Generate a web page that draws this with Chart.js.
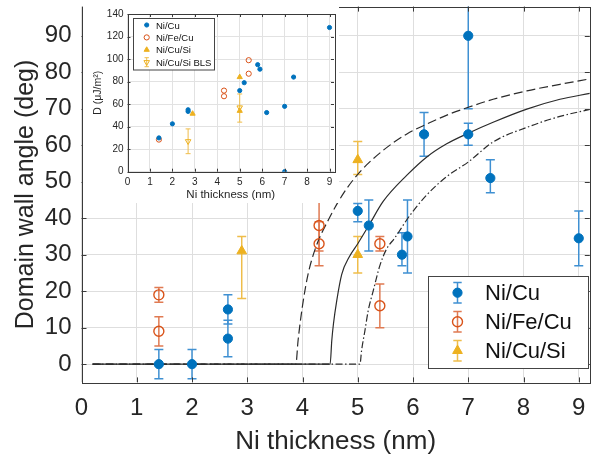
<!DOCTYPE html>
<html>
<head>
<meta charset="utf-8">
<script src="https://cdn.jsdelivr.net/npm/chart.js@4"></script>
<style>
  html, body { margin: 0; padding: 0; background: #fff; }
  #wrap { position: relative; width: 601px; height: 462px; }
  #main { position: absolute; left: 0; top: 0; }
  #insetBox { position: absolute; left: 83px; top: 6px; width: 256px; height: 197px; background: #fff; }
</style>
</head>
<body>
<div id="wrap">
  <canvas id="main" width="601" height="462"></canvas>
  <div id="insetBox"><canvas id="inset" width="256" height="197"></canvas></div>
</div>
<script>
// ---- main plot: domain wall angle vs Ni thickness ----
const xTicks = [0, 1, 2, 3, 4, 5, 6, 7, 8, 9];
const yTicks = [0, 10, 20, 30, 40, 50, 60, 70, 80, 90];

const niCuX = [1.4, 2, 2.65, 2.65, 5, 5.2, 5.8, 5.9, 6.2, 7, 7, 7.4, 9];
const niCuY = [0, 0, 15, 7, 42, 38, 30, 35, 63, 90, 63, 51, 34.5];
const niCuUp = [4, 4, 4, 5, 2, 7, 6, 10, 6, 20, 3, 5, 7.5];
const niCuDown = [4, 4, 4, 5, 3, 7, 3, 10, 6, 20, 3, 4, 7.5];

const niFeCuX = [1.4, 1.4, 4.3, 4.3, 5.4, 5.4];
const niFeCuY = [19, 9, 38, 33, 33, 16];
const niFeCuUp = [2, 4, 7, 6, 2, 6];
const niFeCuDown = [2, 4, 7, 6, 2, 6];

const niCuSiX = [2.9, 5, 5];
const niCuSiY = [31, 56, 30];
const niCuSiUp = [4, 5, 5];
const niCuSiDown = [13, 4, 5];

// model curves
const solidX = [0.2, 4.5, 4.53, 4.56, 4.62, 4.71, 4.85, 5.0, 5.2, 5.46, 5.89, 6.25, 6.61, 7.0, 7.45, 8.06, 8.66, 9.2];
const solidY = [0, 0, 6.5, 11, 17.4, 24.6, 29.5, 33, 38, 44.6, 51.8, 56.8, 60.4, 63.3, 66.3, 69.9, 72.6, 74.2];
const dashX = [0.2, 3.88, 3.92, 4.0, 4.1, 4.24, 4.47, 4.75, 5.04, 5.46, 5.89, 6.25, 6.67, 7.0, 7.45, 8.06, 8.66, 9.2];
const dashY = [0, 0, 6.5, 16, 24.6, 32, 39.6, 47, 52.7, 58.6, 63.1, 65.8, 68.6, 70.4, 72.6, 74.9, 76.7, 78.2];
const dashDotX = [0.2, 5.04, 5.07, 5.13, 5.19, 5.28, 5.4, 5.52, 5.67, 5.95, 6.25, 6.61, 7.0, 7.45, 8.06, 8.66, 9.2];
const dashDotY = [0, 0, 3.8, 9.2, 14.7, 20.1, 27, 31.5, 34.6, 40.9, 46.4, 51.4, 55.4, 60.9, 64.9, 67.9, 69.8];

// ---- inset: D vs Ni thickness ----
const insetXTicks = [0, 1, 2, 3, 4, 5, 6, 7, 8, 9];
const insetYTicks = [0, 20, 40, 60, 80, 100, 120, 140];

const dNiCuX = [1.4, 2, 2.7, 2.7, 5, 5.2, 5.8, 5.9, 6.2, 7, 7, 7.4, 9];
const dNiCuY = [30, 42.5, 55, 53.5, 72, 79, 95, 91, 52.5, 58, 0, 84, 128];
const dNiFeCuX = [1.4, 4.3, 4.3, 5.4, 5.4];
const dNiFeCuY = [28.5, 72, 67, 99, 87];
const dNiCuSiX = [2.9, 5, 5];
const dNiCuSiY = [51.5, 84, 54];
const dBlsX = [2.7, 5];
const dBlsY = [27, 57];
const dBlsUp = [11, 12];
const dBlsDown = [11, 13];

const FONT = "'Liberation Sans', Arial, sans-serif";
const BLUE = '#0072BD', ORANGE = '#D95319', YELLOW = '#EDB120';
const INK = '#262626';

const pts = (xs, ys) => xs.map((x, i) => ({x: x, y: ys[i]}));

// vertical error bars with caps, drawn under the markers
const errorBars = {
  id: 'errorBars',
  beforeDatasetsDraw(chart) {
    const {ctx, chartArea: a, scales: {x, y}} = chart;
    ctx.save();
    ctx.beginPath();
    ctx.rect(a.left, a.top, a.right - a.left, a.bottom - a.top);
    ctx.clip();
    chart.data.datasets.forEach(ds => {
      if (!ds.errUp) return;
      ctx.strokeStyle = ds.barColor;
      ctx.lineWidth = ds.barWidth;
      ds.data.forEach((p, i) => {
        const px = x.getPixelForValue(p.x);
        const top = y.getPixelForValue(p.y + ds.errUp[i]);
        const bot = y.getPixelForValue(p.y - ds.errDown[i]);
        const c = ds.capHalf;
        ctx.beginPath();
        ctx.moveTo(px, top); ctx.lineTo(px, bot);
        ctx.moveTo(px - c, top); ctx.lineTo(px + c, top);
        ctx.moveTo(px - c, bot); ctx.lineTo(px + c, bot);
        ctx.stroke();
      });
    });
    ctx.restore();
  }
};

// box around the axes with inward ticks on every side
const frame = {
  id: 'frame',
  afterDraw(chart, args, opts) {
    const {ctx, chartArea: a, scales: {x, y}} = chart;
    const t = opts.tick;
    ctx.save();
    ctx.strokeStyle = opts.color;
    ctx.lineWidth = 1;
    ctx.beginPath();
    x.ticks.forEach(tk => {
      const px = Math.round(x.getPixelForValue(tk.value)) + 0.5;
      ctx.moveTo(px, a.bottom); ctx.lineTo(px, a.bottom - t);
      ctx.moveTo(px, a.top); ctx.lineTo(px, a.top + t);
    });
    y.ticks.forEach(tk => {
      const py = Math.round(y.getPixelForValue(tk.value)) + 0.5;
      ctx.moveTo(a.left, py); ctx.lineTo(a.left + t, py);
      ctx.moveTo(a.right, py); ctx.lineTo(a.right - t, py);
    });
    ctx.stroke();
    ctx.strokeRect(Math.round(a.left) + 0.5, Math.round(a.top) + 0.5,
      Math.round(a.right - a.left), Math.round(a.bottom - a.top));
    ctx.restore();
  }
};

function marker(ctx, ds, cx, cy, scale) {
  ctx.fillStyle = ds.backgroundColor;
  ctx.strokeStyle = ds.borderColor;
  ctx.lineWidth = ds.borderWidth;
  Chart.helpers.drawPoint(ctx, {
    pointStyle: ds.pointStyle,
    radius: ds.pointRadius * (scale || 1),
    borderWidth: ds.borderWidth,
    rotation: ds.pointRotation || 0
  }, cx, cy);
}

// legend: box, error-bar glyph, marker, label
const boxLegend = {
  id: 'boxLegend',
  afterDraw(chart, args, o) {
    const ctx = chart.ctx;
    ctx.save();
    ctx.fillStyle = '#fff';
    ctx.fillRect(o.left, o.top, o.width, o.height);
    ctx.strokeStyle = '#444';
    ctx.lineWidth = 1;
    ctx.strokeRect(o.left, o.top, o.width, o.height);
    const list = chart.data.datasets.filter(d => d.legend);
    list.forEach((ds, i) => {
      const cy = o.firstY + i * o.step;
      const cx = o.markX;
      if (ds.errUp && o.bar) {
        ctx.strokeStyle = ds.barColor;
        ctx.lineWidth = ds.barWidth;
        ctx.beginPath();
        ctx.moveTo(cx, cy - o.bar); ctx.lineTo(cx, cy + o.bar);
        ctx.moveTo(cx - o.cap, cy - o.bar); ctx.lineTo(cx + o.cap, cy - o.bar);
        ctx.moveTo(cx - o.cap, cy + o.bar); ctx.lineTo(cx + o.cap, cy + o.bar);
        ctx.stroke();
      }
      marker(ctx, ds, cx, cy, o.markScale);
      ctx.fillStyle = '#111';
      ctx.font = o.font;
      ctx.textAlign = 'left';
      ctx.textBaseline = 'middle';
      ctx.fillText(ds.label, o.textX, cy + 1);
    });
    ctx.restore();
  }
};

function curve(label, xs, ys, dash) {
  return {
    label: label, data: pts(xs, ys), showLine: true, pointRadius: 0,
    borderColor: '#2b2b2b', borderWidth: 1.2, borderDash: dash,
    cubicInterpolationMode: 'monotone', fill: false, order: 2
  };
}

new Chart(document.getElementById('main'), {
  type: 'scatter',
  data: {
    datasets: [
      {
        label: 'Ni/Cu', legend: true, data: pts(niCuX, niCuY),
        errUp: niCuUp, errDown: niCuDown, barColor: '#3f90d2', barWidth: 1.5, capHalf: 4.5,
        pointStyle: 'circle', pointRadius: 4.6, backgroundColor: BLUE, borderColor: BLUE, borderWidth: 1, order: 1
      },
      {
        label: 'Ni/Fe/Cu', legend: true, data: pts(niFeCuX, niFeCuY),
        errUp: niFeCuUp, errDown: niFeCuDown, barColor: '#e07a52', barWidth: 1.5, capHalf: 4.5,
        pointStyle: 'circle', pointRadius: 5, backgroundColor: 'rgba(255,255,255,0)', borderColor: ORANGE, borderWidth: 1.4, order: 1
      },
      {
        label: 'Ni/Cu/Si', legend: true, data: pts(niCuSiX, niCuSiY),
        errUp: niCuSiUp, errDown: niCuSiDown, barColor: '#efbd4a', barWidth: 1.5, capHalf: 4.5,
        pointStyle: 'triangle', pointRadius: 5.6, backgroundColor: YELLOW, borderColor: YELLOW, borderWidth: 1, order: 1
      },
      curve('fit', solidX, solidY, []),
      curve('fit upper', dashX, dashY, [9, 4]),
      curve('fit lower', dashDotX, dashDotY, [7, 2.5, 1.5, 2.5])
    ]
  },
  options: {
    responsive: false,
    animation: false,
    layout: { padding: { left: 0, top: 3.4, right: 11.2, bottom: 0 } },
    scales: {
      x: {
        type: 'linear', min: 0, max: 9.2,
        afterBuildTicks: s => { s.ticks = xTicks.map(v => ({value: v})); },
        afterFit: s => { s.height = 79.6; s.paddingLeft = 0; s.paddingRight = 0; },
        grid: { color: '#dedede', drawTicks: false },
        border: { display: false },
        ticks: { padding: 12, color: INK, font: { family: FONT, size: 24 } },
        title: {
          display: true, text: 'Ni thickness (nm)', color: INK,
          font: { family: FONT, size: 26, lineHeight: 1 }, padding: { top: 0, bottom: 7 }
        }
      },
      y: {
        type: 'linear', min: -5, max: 98,
        afterBuildTicks: s => { s.ticks = yTicks.map(v => ({value: v})); },
        afterFit: s => { s.width = 81.5; s.paddingTop = 0; s.paddingBottom = 0; },
        grid: { color: '#dedede', drawTicks: false },
        border: { display: false },
        ticks: { padding: 10, color: INK, font: { family: FONT, size: 24 } },
        title: {
          display: true, text: 'Domain wall angle (deg)', color: INK,
          font: { family: FONT, size: 25, lineHeight: 1 }, padding: { top: 14, bottom: 0 }
        }
      }
    },
    plugins: {
      legend: { display: false },
      tooltip: { enabled: false },
      frame: { tick: 5, color: '#3a3a3a' },
      boxLegend: {
        left: 428.5, top: 276.5, width: 160, height: 92,
        firstY: 292.7, step: 29, markX: 457.5, textX: 485,
        bar: 10.3, cap: 4.2, font: '22px ' + FONT
      }
    }
  },
  plugins: [errorBars, frame, boxLegend]
});

new Chart(document.getElementById('inset'), {
  type: 'scatter',
  data: {
    datasets: [
      {
        label: 'Ni/Cu', legend: true, data: pts(dNiCuX, dNiCuY),
        pointStyle: 'circle', pointRadius: 2.1, backgroundColor: BLUE, borderColor: BLUE, borderWidth: 1
      },
      {
        label: 'Ni/Fe/Cu', legend: true, data: pts(dNiFeCuX, dNiFeCuY),
        pointStyle: 'circle', pointRadius: 2.6, backgroundColor: 'rgba(255,255,255,0)', borderColor: ORANGE, borderWidth: 1
      },
      {
        label: 'Ni/Cu/Si', legend: true, data: pts(dNiCuSiX, dNiCuSiY),
        pointStyle: 'triangle', pointRadius: 3, backgroundColor: YELLOW, borderColor: YELLOW, borderWidth: 1
      },
      {
        label: 'Ni/Cu/Si BLS', legend: true, data: pts(dBlsX, dBlsY),
        errUp: dBlsUp, errDown: dBlsDown, barColor: '#efbd4a', barWidth: 1, capHalf: 2.5,
        pointStyle: 'triangle', pointRotation: 180, pointRadius: 3.2,
        backgroundColor: 'rgba(255,255,255,0)', borderColor: YELLOW, borderWidth: 1
      }
    ]
  },
  options: {
    responsive: false,
    animation: false,
    layout: { padding: { left: 0, top: 8, right: 2.8, bottom: 0 } },
    scales: {
      x: {
        type: 'linear', min: 0, max: 9.2,
        afterBuildTicks: s => { s.ticks = insetXTicks.map(v => ({value: v})); },
        afterFit: s => { s.height = 31.3; s.paddingLeft = 0; s.paddingRight = 0; },
        grid: { color: '#e2e2e2', drawTicks: false },
        border: { display: false },
        ticks: { padding: 5, color: INK, font: { family: FONT, size: 10 } },
        title: {
          display: true, text: 'Ni thickness (nm)', color: INK,
          font: { family: FONT, size: 11.5, lineHeight: 1 }, padding: { top: 0, bottom: 2 }
        }
      },
      y: {
        type: 'linear', min: 0, max: 140,
        afterBuildTicks: s => { s.ticks = insetYTicks.map(v => ({value: v})); },
        afterFit: s => { s.width = 44.5; s.paddingTop = 0; s.paddingBottom = 0; },
        grid: { color: '#e2e2e2', drawTicks: false },
        border: { display: false },
        ticks: { padding: 4, color: INK, font: { family: FONT, size: 10 } },
        title: {
          display: true, text: 'D (\u03bcJ/m\u00b2)', color: INK,
          font: { family: FONT, size: 10.5, lineHeight: 1 }, padding: { top: 10, bottom: 0 }
        }
      }
    },
    plugins: {
      legend: { display: false },
      tooltip: { enabled: false },
      frame: { tick: 3, color: '#3a3a3a' },
      boxLegend: {
        left: 50.5, top: 12.5, width: 81, height: 51.5,
        firstY: 19, step: 12.4, markX: 63.7, textX: 73,
        bar: 4.5, cap: 2.2, font: '9.5px ' + FONT
      }
    }
  },
  plugins: [errorBars, frame, boxLegend]
});
</script>
</body>
</html>
